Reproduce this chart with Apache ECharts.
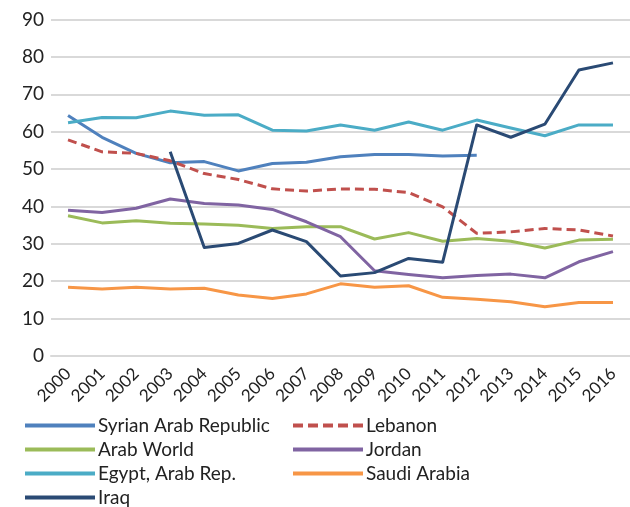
<!DOCTYPE html>
<html>
<head>
<meta charset="utf-8">
<script src="https://cdn.jsdelivr.net/npm/echarts@6/dist/echarts.min.js"></script>
<style>html,body{margin:0;padding:0;background:#fff}#c{width:630px;height:507px}</style>
</head>
<body>
<div id="c"></div>
<script>
const years = ['2000','2001','2002','2003','2004','2005','2006','2007','2008','2009','2010','2011','2012','2013','2014','2015','2016'];
const syria = [64.3,58.5,54.2,51.7,52.0,49.5,51.5,51.8,53.3,53.9,53.9,53.5,53.7,null,null,null,null];
const lebanon = [57.8,54.6,54.2,52.2,48.8,47.2,44.7,44.1,44.7,44.6,43.7,39.9,32.8,33.2,34.1,33.7,32.1];
const arabWorld = [37.5,35.6,36.2,35.5,35.3,35.0,34.1,34.6,34.6,31.3,33.0,30.7,31.4,30.7,28.9,31.0,31.2];
const jordan = [39.0,38.4,39.5,42.0,40.8,40.4,39.2,35.9,31.9,22.8,21.8,20.9,21.5,21.9,20.9,25.2,27.9];
const egypt = [62.4,63.8,63.7,65.5,64.4,64.5,60.4,60.2,61.8,60.4,62.6,60.4,63.1,61.0,58.9,61.8,61.8];
const saudi = [18.4,17.9,18.4,17.9,18.1,16.3,15.4,16.6,19.3,18.4,18.8,15.7,15.2,14.5,13.2,14.3,14.3];
const iraq = [null,null,null,54.6,29.0,30.1,33.7,30.6,21.4,22.3,26.1,25.1,61.8,58.5,62.0,76.5,78.4];
const yTicks = [0,10,20,30,40,50,60,70,80,90];

const FONT = 'Lato';
const SOLID = 'path://M0,0L70,0L70,4L0,4Z';
const DASH = 'path://M0,0L10,0L10,4L0,4ZM15,0L25,0L25,4L15,4ZM30,0L40,0L40,4L30,4ZM45,0L55,0L55,4L45,4ZM60,0L70,0L70,4L60,4Z';
function mk(name, data, color, dashed) {
  return {
    name, type: 'line', data, symbol: 'none', connectNulls: false,
    lineStyle: { color, width: 3, type: dashed ? [9,5] : 'solid', cap: 'butt', join: 'round' },
    itemStyle: { color },
    emphasis: { disabled: true },
    animation: false
  };
}
const chart = echarts.init(document.getElementById('c'), null, { renderer: 'canvas' });
const legendCommon = {
  orient: 'vertical', top: 411, height: 100, itemWidth: 70, itemHeight: 4, itemGap: 5,
  textStyle: { fontFamily: FONT, fontSize: 19, color: '#222', lineHeight: 19, padding: [0,0,0,-2] },
  selectedMode: false
};
function li(name, dashed) { return { name, icon: dashed ? DASH : SOLID, itemStyle: { borderWidth: 0 } }; }
chart.setOption({
  animation: false,
  grid: { left: 51, top: 19.5, width: 586, height: 336.5, containLabel: false },
  xAxis: {
    type: 'category', data: years, boundaryGap: true,
    axisLine: { show: true, lineStyle: { color: '#d9d9d9', width: 2 } },
    axisTick: { show: false },
    axisLabel: { rotate: 45, fontFamily: FONT, fontSize: 17, color: '#222', margin: 15, interval: 0 }
  },
  yAxis: {
    type: 'value', min: 0, max: 90, interval: 10,
    axisLine: { show: false }, axisTick: { show: false },
    splitLine: { lineStyle: { color: '#d9d9d9', width: 2 } },
    axisLabel: { fontFamily: FONT, fontSize: 19, color: '#222', margin: 7,
      formatter: v => yTicks.includes(v) ? String(v) : '' }
  },
  legend: [
    Object.assign({ left: 20, data: [li('Syrian Arab Republic'), li('Arab World'), li('Egypt, Arab Rep.'), li('Iraq')] }, legendCommon),
    Object.assign({ left: 288, data: [li('Lebanon', true), li('Jordan'), li('Saudi Arabia')] }, legendCommon)
  ],
  series: [
    mk('Syrian Arab Republic', syria, '#4f81bd'),
    mk('Lebanon', lebanon, '#c0504d', true),
    mk('Arab World', arabWorld, '#9bbb59'),
    mk('Jordan', jordan, '#8064a2'),
    mk('Egypt, Arab Rep.', egypt, '#4bacc6'),
    mk('Saudi Arabia', saudi, '#f79646'),
    mk('Iraq', iraq, '#2a4a74')
  ]
});
</script>
</body>
</html>
